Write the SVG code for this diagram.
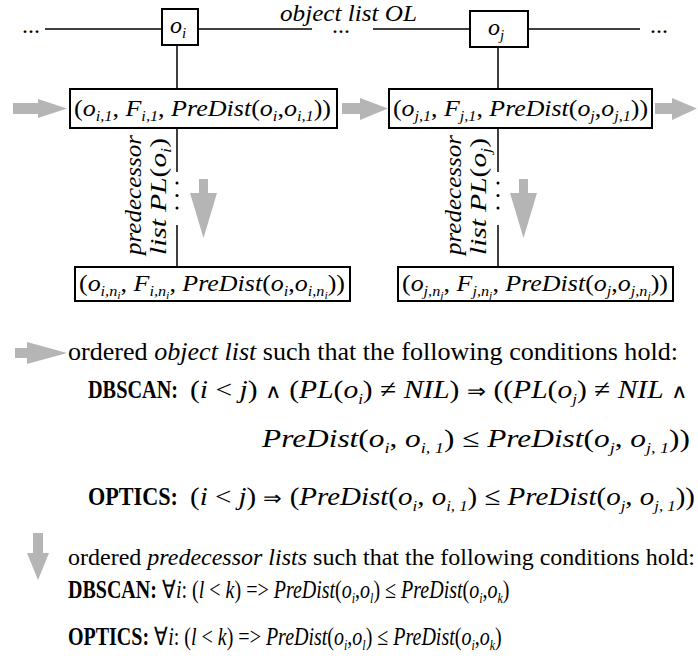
<svg xmlns="http://www.w3.org/2000/svg" width="698" height="660" viewBox="0 0 698 660">
<style>
text{font-family:"Liberation Serif","Times New Roman",serif;fill:#000}
.i{font-style:italic}
.b{font-weight:bold}
.bx{font-size:24px}
.s{font-size:15px}
.sym{font-size:20px}
.ln{stroke:#000;stroke-width:1.5;fill:none}
.box{stroke:#000;stroke-width:2;fill:#fff}
.ga{fill:#b5b5b5}
.f26{font-size:26px}
.f25{font-size:25px}
.f24{font-size:24px}
</style>
<rect width="698" height="660" fill="#fff"/>
<g id="connectors">
<line class="ln" x1="45" y1="29" x2="162" y2="29"/>
<line class="ln" x1="198" y1="29" x2="312" y2="29"/>
<line class="ln" x1="373" y1="29" x2="470" y2="29"/>
<line class="ln" x1="528" y1="29" x2="640" y2="29"/>
<line class="ln" x1="177" y1="45" x2="177" y2="89"/>
<line class="ln" x1="498" y1="47" x2="498" y2="89"/>
<line class="ln" x1="177" y1="128" x2="177" y2="172"/>
<line class="ln" x1="177" y1="225" x2="177" y2="267"/>
<line class="ln" x1="498" y1="128" x2="498" y2="172"/>
<line class="ln" x1="498" y1="225" x2="498" y2="267"/>
<circle cx="177" cy="183" r="1.5"/><circle cx="177" cy="195.5" r="1.5"/><circle cx="177" cy="208" r="1.5"/>
<circle cx="498" cy="183" r="1.5"/><circle cx="498" cy="195.5" r="1.5"/><circle cx="498" cy="208" r="1.5"/>
<polygon class="ga" points="13,103 38,103 38,99 67,108.5 38,118 38,114 13,114"/>
<polygon class="ga" points="342,103 360,103 360,98 388,108.5 360,120 360,114 342,114"/>
<polygon class="ga" points="655,103 672,103 672,98 697,108.5 672,120 672,114 655,114"/>
<polygon class="ga" points="199,179 208,179 208,193 217,193 203.5,238 190,193 199,193"/>
<polygon class="ga" points="519,179 528,179 528,193 537,193 523.5,238 510,193 519,193"/>
</g>
<g id="top-labels">
<text class="f24" x="22" y="33">...</text>
<text class="f24" x="332" y="33">...</text>
<text class="f24" x="650" y="33">...</text>
<text class="f24 i" x="280" y="21" textLength="137" lengthAdjust="spacingAndGlyphs">object list  OL</text>
</g>
<g id="node-oi">
<rect class="box" x="162" y="9" width="36" height="36"/>
<text class="bx" x="170" y="33"><tspan class="i">o</tspan><tspan class="i s" dy="5">i</tspan></text>
</g>
<g id="node-oj">
<rect class="box" x="470" y="11" width="58" height="36"/>
<text class="bx" x="488" y="35"><tspan class="i">o</tspan><tspan class="i s" dy="5">j</tspan></text>
</g>
<g id="node-i1">
<rect class="box" x="70" y="89" width="267" height="39"/>
<text class="bx" x="74" y="116" textLength="257" lengthAdjust="spacingAndGlyphs">(<tspan class="i">o</tspan><tspan class="i s" dy="5">i,1</tspan><tspan dy="-5">, </tspan><tspan class="i">F</tspan><tspan class="i s" dy="5">i,1</tspan><tspan dy="-5">, </tspan><tspan class="i">PreDist</tspan>(<tspan class="i">o</tspan><tspan class="i s" dy="5">i</tspan><tspan dy="-5">,</tspan><tspan class="i">o</tspan><tspan class="i s" dy="5">i,1</tspan><tspan dy="-5">))</tspan></text>
</g>
<g id="node-j1">
<rect class="box" x="389" y="89" width="263" height="39"/>
<text class="bx" x="393" y="116" textLength="255" lengthAdjust="spacingAndGlyphs">(<tspan class="i">o</tspan><tspan class="i s" dy="5">j,1</tspan><tspan dy="-5">, </tspan><tspan class="i">F</tspan><tspan class="i s" dy="5">j,1</tspan><tspan dy="-5">, </tspan><tspan class="i">PreDist</tspan>(<tspan class="i">o</tspan><tspan class="i s" dy="5">j</tspan><tspan dy="-5">,</tspan><tspan class="i">o</tspan><tspan class="i s" dy="5">j,1</tspan><tspan dy="-5">))</tspan></text>
</g>
<g id="node-ini">
<rect class="box" x="75" y="267" width="275" height="34"/>
<text class="bx" x="79" y="291" textLength="266" lengthAdjust="spacingAndGlyphs">(<tspan class="i">o</tspan><tspan class="i s" dy="5">i,n</tspan><tspan class="i" font-size="11" dy="3">i</tspan><tspan dy="-8">, </tspan><tspan class="i">F</tspan><tspan class="i s" dy="5">i,n</tspan><tspan class="i" font-size="11" dy="3">i</tspan><tspan dy="-8">, </tspan><tspan class="i">PreDist</tspan>(<tspan class="i">o</tspan><tspan class="i s" dy="5">i</tspan><tspan dy="-5">,</tspan><tspan class="i">o</tspan><tspan class="i s" dy="5">i,n</tspan><tspan class="i" font-size="11" dy="3">i</tspan><tspan dy="-8">))</tspan></text>
</g>
<g id="node-jnj">
<rect class="box" x="398" y="267" width="275" height="34"/>
<text class="bx" x="402" y="291" textLength="266" lengthAdjust="spacingAndGlyphs">(<tspan class="i">o</tspan><tspan class="i s" dy="5">j,n</tspan><tspan class="i" font-size="11" dy="3">j</tspan><tspan dy="-8">, </tspan><tspan class="i">F</tspan><tspan class="i s" dy="5">j,n</tspan><tspan class="i" font-size="11" dy="3">j</tspan><tspan dy="-8">, </tspan><tspan class="i">PreDist</tspan>(<tspan class="i">o</tspan><tspan class="i s" dy="5">j</tspan><tspan dy="-5">,</tspan><tspan class="i">o</tspan><tspan class="i s" dy="5">j,n</tspan><tspan class="i" font-size="11" dy="3">j</tspan><tspan dy="-8">))</tspan></text>
</g>
<g id="pl-labels">
<text class="f24 i" transform="translate(141,255) rotate(-90)" textLength="120" lengthAdjust="spacingAndGlyphs">predecessor</text>
<text class="f24" transform="translate(166,255) rotate(-90)" textLength="117" lengthAdjust="spacingAndGlyphs"><tspan class="i">list  PL</tspan>(<tspan class="i">o</tspan><tspan class="i s" dy="5">i</tspan><tspan dy="-5">)</tspan></text>
<text class="f24 i" transform="translate(461,255) rotate(-90)" textLength="120" lengthAdjust="spacingAndGlyphs">predecessor</text>
<text class="f24" transform="translate(486,255) rotate(-90)" textLength="117" lengthAdjust="spacingAndGlyphs"><tspan class="i">list  PL</tspan>(<tspan class="i">o</tspan><tspan class="i s" dy="5">j</tspan><tspan dy="-5">)</tspan></text>
</g>
<g id="legend-object">
<polygon class="ga" points="15,348 27,348 27,342 67,353 27,364 27,358 15,358"/>
<text class="f26" x="68" y="360" textLength="610" lengthAdjust="spacingAndGlyphs">ordered <tspan class="i">object list</tspan> such that the following conditions hold:</text>
<text class="f26 b" x="88" y="398" textLength="90" lengthAdjust="spacingAndGlyphs">DBSCAN:</text>
<text class="f26" x="190" y="398" textLength="498" lengthAdjust="spacingAndGlyphs">(<tspan class="i">i</tspan> &lt; <tspan class="i">j</tspan>) <tspan class="sym">∧</tspan> (<tspan class="i">PL</tspan>(<tspan class="i">o</tspan><tspan class="i s" dy="6">i</tspan><tspan dy="-6">) ≠ </tspan><tspan class="i">NIL</tspan>) <tspan class="sym">⇒</tspan> ((<tspan class="i">PL</tspan>(<tspan class="i">o</tspan><tspan class="i s" dy="6">j</tspan><tspan dy="-6">) ≠ </tspan><tspan class="i">NIL</tspan> <tspan class="sym">∧</tspan></text>
<text class="f26" x="262" y="447" textLength="428" lengthAdjust="spacingAndGlyphs"><tspan class="i">PreDist</tspan>(<tspan class="i">o</tspan><tspan class="i s" dy="6">i</tspan><tspan dy="-6">, </tspan><tspan class="i">o</tspan><tspan class="i s" dy="6">i, 1</tspan><tspan dy="-6">) ≤ </tspan><tspan class="i">PreDist</tspan>(<tspan class="i">o</tspan><tspan class="i s" dy="6">j</tspan><tspan dy="-6">, </tspan><tspan class="i">o</tspan><tspan class="i s" dy="6">j, 1</tspan><tspan dy="-6">))</tspan></text>
<text class="f26 b" x="88" y="505" textLength="90" lengthAdjust="spacingAndGlyphs">OPTICS:</text>
<text class="f26" x="190" y="505" textLength="505" lengthAdjust="spacingAndGlyphs">(<tspan class="i">i</tspan> &lt; <tspan class="i">j</tspan>) <tspan class="sym">⇒</tspan> (<tspan class="i">PreDist</tspan>(<tspan class="i">o</tspan><tspan class="i s" dy="6">i</tspan><tspan dy="-6">, </tspan><tspan class="i">o</tspan><tspan class="i s" dy="6">i, 1</tspan><tspan dy="-6">) ≤ </tspan><tspan class="i">PreDist</tspan>(<tspan class="i">o</tspan><tspan class="i s" dy="6">j</tspan><tspan dy="-6">, </tspan><tspan class="i">o</tspan><tspan class="i s" dy="6">j, 1</tspan><tspan dy="-6">))</tspan></text>
</g>
<g id="legend-predecessor">
<polygon class="ga" points="33,533 43,533 43,553 49,553 38,580 27,553 33,553"/>
<text class="f24" x="68" y="565" textLength="627" lengthAdjust="spacingAndGlyphs">ordered <tspan class="i">predecessor lists</tspan> such that the following conditions hold:</text>
<text class="f25" transform="translate(68,598) scale(0.8,1)" x="0" y="0"><tspan class="b">DBSCAN:</tspan> ∀<tspan class="i">i</tspan>: (<tspan class="i">l</tspan> &lt; <tspan class="i">k</tspan>) =&gt; <tspan class="i">PreDist</tspan>(<tspan class="i">o</tspan><tspan class="i s" dy="5">i</tspan><tspan dy="-5">,</tspan><tspan class="i">o</tspan><tspan class="i s" dy="5">l</tspan><tspan dy="-5">) ≤ </tspan><tspan class="i">PreDist</tspan>(<tspan class="i">o</tspan><tspan class="i s" dy="5">i</tspan><tspan dy="-5">,</tspan><tspan class="i">o</tspan><tspan class="i s" dy="5">k</tspan><tspan dy="-5">)</tspan></text>
<text class="f25" transform="translate(68,645) scale(0.8,1)" x="0" y="0"><tspan class="b">OPTICS:</tspan>  ∀<tspan class="i">i</tspan>: (<tspan class="i">l</tspan> &lt; <tspan class="i">k</tspan>) =&gt; <tspan class="i">PreDist</tspan>(<tspan class="i">o</tspan><tspan class="i s" dy="5">i</tspan><tspan dy="-5">,</tspan><tspan class="i">o</tspan><tspan class="i s" dy="5">l</tspan><tspan dy="-5">) ≤ </tspan><tspan class="i">PreDist</tspan>(<tspan class="i">o</tspan><tspan class="i s" dy="5">i</tspan><tspan dy="-5">,</tspan><tspan class="i">o</tspan><tspan class="i s" dy="5">k</tspan><tspan dy="-5">)</tspan></text>
</g>
</svg>
